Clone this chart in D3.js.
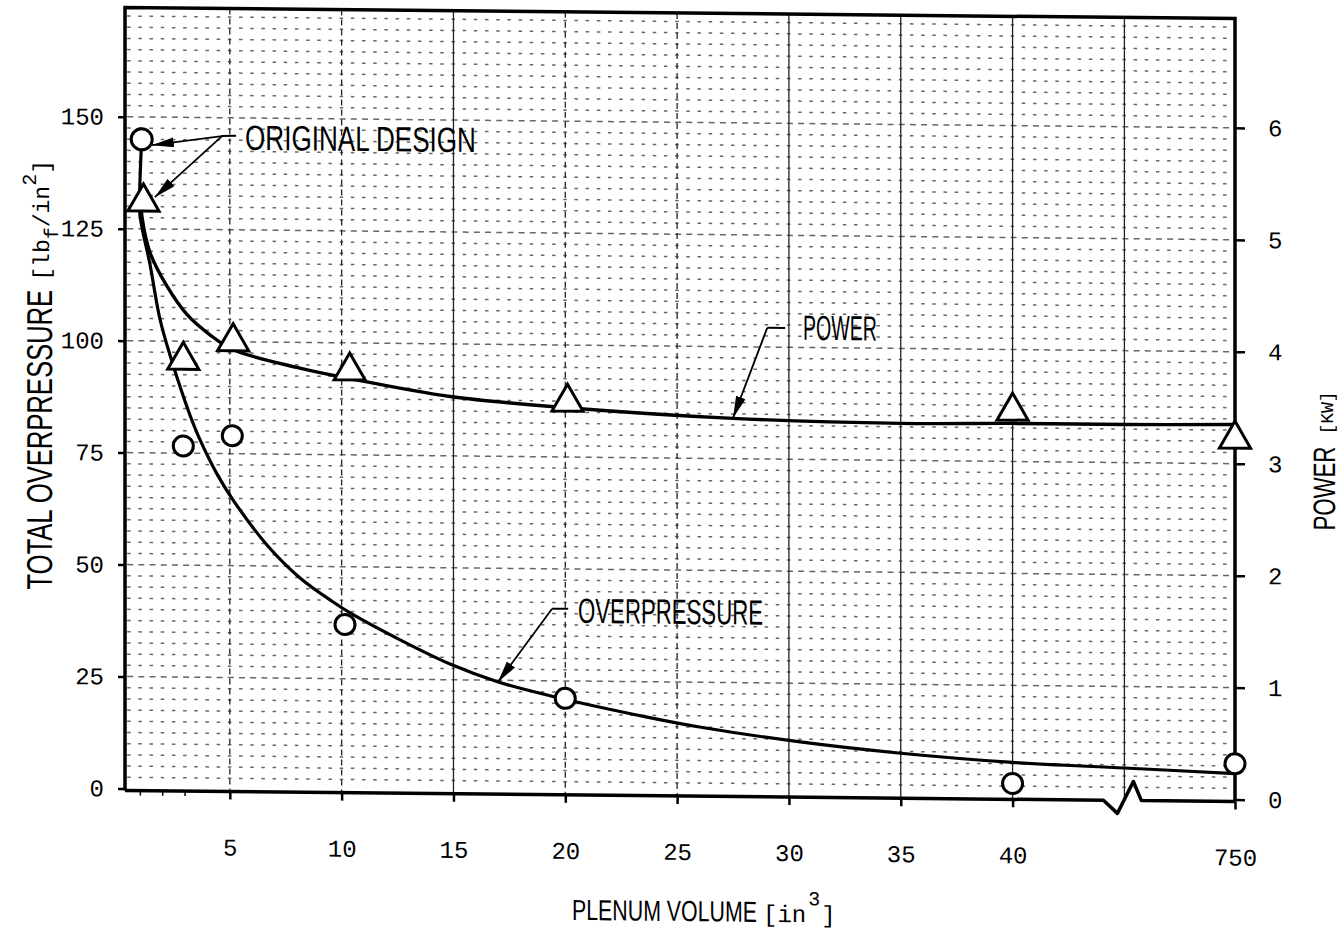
<!DOCTYPE html>
<html>
<head>
<meta charset="utf-8">
<script src="https://cdn.jsdelivr.net/npm/d3@7"></script>
<style>
  body { margin: 0; background: #fff; }
  svg { display: block; background: #fff; }
</style>
</head>
<body>
<div id="chart"></div>
<script>
var MONO = "'Liberation Mono', 'DejaVu Sans Mono', monospace";
var LETTER = "'Liberation Sans Narrow', 'Liberation Sans', 'DejaVu Sans', sans-serif";

// measured points: overpressure (circles) and power (triangles)
var pressureVolume = [1.06, 2.92, 5.11, 10.15, 20, 40, 750];
var pressureValue = [145, 76.6, 79, 37.1, 21.1, 3.1, 8];
var powerVolume = [1.14, 2.92, 5.15, 10.36, 20.1, 40, 750];
var powerValue = [5.24, 3.83, 4.0, 3.75, 3.49, 3.45, 3.22];

// hand-drawn fitted curves
var pressureCurveVolume = [1.06, 0.98, 0.98, 1.43, 1.88, 2.41, 2.68, 3.22, 3.67, 4.43, 5.14, 6.66, 8.14, 9.62, 10.38, 12.61, 14.85, 17.0, 19.45, 23.66, 26.0, 30.5, 35.0, 40, 45, 750];
var pressureCurveValue = [145, 134.9, 128.2, 117.1, 104.8, 95.5, 91.3, 83.5, 78.0, 70.4, 64.7, 54.7, 47.4, 42.1, 39.7, 33.8, 28.5, 24.6, 21.5, 17.1, 15.0, 11.9, 9.6, 7.8, 6.8, 5.8];
var powerCurveVolume = [1.03, 1.07, 1.43, 2.19, 3.08, 4.11, 5.13, 8.13, 10.4, 14.85, 20.1, 27.5, 35.0, 40, 45, 750];
var powerCurveValue = [5.24, 5.11, 4.79, 4.49, 4.24, 4.06, 3.93, 3.77, 3.68, 3.53, 3.44, 3.36, 3.33, 3.34, 3.34, 3.35];

var xTicks = [5, 10, 15, 20, 25, 30, 35, 40, 750];
var xMinorTicks = [1, 2, 3];
var pressureTicks = [0, 25, 50, 75, 100, 125, 150];
var powerTicks = [0, 1, 2, 3, 4, 5, 6];

var notes = [
    {text: "ORIGINAL DESIGN", at: [5.68, 142.9], len: 231, end: [5.28, 146], elbow: [4.65, 145.9], tips: [[1.52, 143.7], [1.65, 132.1]]},
    {text: "POWER", at: [30.63, 101.7], len: 74, end: [29.83, 104.3], elbow: [29.03, 104.3], tips: [[27.5, 84.1]]},
    {text: "OVERPRESSURE", at: [20.57, 38.0], len: 185, end: [20.13, 41.1], elbow: [19.41, 41.1], tips: [[16.99, 24.6]]}
];

var width = 1344, height = 932;
var skew = 0.01; // the scanned sheet sits slightly askew

var svg = d3.select("#chart").append("svg")
    .attr("width", width)
    .attr("height", height);

var g = svg.append("g")
    .attr("transform", "matrix(1," + skew + ",0,1,0," + (-skew * 680) + ")");

// x axis is broken between 45 and 750
var x = d3.scaleLinear().domain([0, 45, 750]).range([118, 1124.4, 1235]);
var yL = d3.scaleLinear().domain([0, 150]).range([794, 122.3]);
var yR = d3.scaleLinear().domain([0, 6]).range([794, 122.3]);

var plotLeft = 125, plotRight = x(750), plotTop = 13, plotBottom = 796;

// graph paper
var step = x(0.5) - x(0);
g.append("g").selectAll("line")
    .data(d3.range(2.5, 175, 2.5))
    .enter().append("line")
    .attr("x1", x(0.5) - 2)
    .attr("x2", plotRight - 3)
    .attr("y1", d => yL(d))
    .attr("y2", d => yL(d))
    .attr("stroke", "#666")
    .attr("stroke-width", 1.5)
    .attr("stroke-dasharray", d => d % 25 === 0 ? "6," + (step - 6) : "3.5," + (step - 3.5));

var solidCols = [15, 30, 35, 40, 45];
g.append("g").selectAll("line")
    .data(d3.range(5, 50, 5))
    .enter().append("line")
    .attr("x1", d => x(d))
    .attr("x2", d => x(d))
    .attr("y1", plotTop)
    .attr("y2", plotBottom)
    .attr("stroke", "#222")
    .attr("stroke-width", 1.3)
    .attr("stroke-dasharray", d => solidCols.indexOf(d) >= 0 ? null : "6,4");

// frame with axis break
g.append("path")
    .attr("d", "M" + plotLeft + "," + plotBottom + "V" + plotTop + "H" + plotRight + "V" + plotBottom)
    .attr("fill", "none")
    .attr("stroke", "#000")
    .attr("stroke-width", 3.5);

var bx = x(45);
g.append("path")
    .attr("d", d3.line()([
        [plotLeft, plotBottom], [bx - 21, plotBottom], [bx - 7, plotBottom + 13],
        [bx + 9, plotBottom - 19], [bx + 17, plotBottom], [plotRight, plotBottom]
    ]))
    .attr("fill", "none")
    .attr("stroke", "#000")
    .attr("stroke-width", 3.5)
    .attr("stroke-linejoin", "round");

// axes
function styleAxis(sel) {
    sel.select(".domain").remove();
    sel.attr("font-family", MONO).attr("font-size", 24);
    sel.selectAll(".tick line").attr("stroke", "#000").attr("stroke-width", 2.5);
    sel.selectAll(".tick text").attr("fill", "#000");
}

g.append("g")
    .attr("transform", "translate(0," + plotBottom + ")")
    .call(d3.axisBottom(x).tickValues(xTicks).tickSize(8).tickPadding(39).tickFormat(d3.format("d")))
    .call(styleAxis);

g.append("g").selectAll("line")
    .data(xMinorTicks)
    .enter().append("line")
    .attr("x1", d => x(d))
    .attr("x2", d => x(d))
    .attr("y1", plotBottom)
    .attr("y2", plotBottom + 5)
    .attr("stroke", "#000")
    .attr("stroke-width", 1.5);

g.append("g")
    .attr("transform", "translate(" + plotLeft + ",0)")
    .call(d3.axisLeft(yL).tickValues(pressureTicks).tickSize(7).tickPadding(14).tickFormat(d3.format("d")))
    .call(styleAxis);

g.append("g")
    .attr("transform", "translate(" + plotRight + ",0)")
    .call(d3.axisRight(yR).tickValues(powerTicks).tickSize(10).tickPadding(23).tickFormat(d3.format("d")))
    .call(styleAxis);

// curves
var pressureLine = d3.line()
    .x(d => x(d[0]))
    .y(d => yL(d[1]))
    .curve(d3.curveCatmullRom.alpha(0.5));

var powerLine = d3.line()
    .x(d => x(d[0]))
    .y(d => yR(d[1]))
    .curve(d3.curveCatmullRom.alpha(0.5));

g.append("path")
    .attr("d", pressureLine(d3.zip(pressureCurveVolume, pressureCurveValue)))
    .attr("fill", "none")
    .attr("stroke", "#000")
    .attr("stroke-width", 3.2);

g.append("path")
    .attr("d", powerLine(d3.zip(powerCurveVolume, powerCurveValue)))
    .attr("fill", "none")
    .attr("stroke", "#000")
    .attr("stroke-width", 3.4);

// markers
g.append("g").selectAll("circle")
    .data(d3.zip(pressureVolume, pressureValue))
    .enter().append("circle")
    .attr("cx", d => x(d[0]))
    .attr("cy", d => yL(d[1]))
    .attr("r", (d, i) => i === 0 ? 10.5 : 10)
    .attr("fill", "#fff")
    .attr("stroke", "#000")
    .attr("stroke-width", 3);

g.append("g").selectAll("path")
    .data(d3.zip(powerVolume, powerValue))
    .enter().append("path")
    .attr("d", d3.symbol(d3.symbolTriangle, 420))
    .attr("transform", d => "translate(" + x(d[0]) + "," + yR(d[1]) + ")")
    .attr("fill", "#fff")
    .attr("stroke", "#000")
    .attr("stroke-width", 3)
    .attr("stroke-linejoin", "miter");

// condensed lettering: squeeze a normal face to the measured length
function lettering(parent, str, size, len, pos) {
    var t = parent.append("text")
        .attr("font-family", LETTER)
        .attr("font-size", size)
        .text(str);
    var sx = len / t.node().getComputedTextLength();
    t.attr("transform", pos + " scale(" + sx + ",1)");
    return t;
}

// annotations
svg.append("defs").append("marker")
    .attr("id", "head")
    .attr("viewBox", "0 0 22 10")
    .attr("refX", 22)
    .attr("refY", 5)
    .attr("markerWidth", 22)
    .attr("markerHeight", 10)
    .attr("markerUnits", "userSpaceOnUse")
    .attr("orient", "auto")
    .append("path")
    .attr("d", "M0,0L22,5L0,10Z")
    .attr("fill", "#000");

var pt = p => [x(p[0]), yL(p[1])];

notes.forEach(function(n) {
    g.append("path")
        .attr("d", d3.line()([pt(n.end), pt(n.elbow)]))
        .attr("stroke", "#000")
        .attr("stroke-width", 2);
    n.tips.forEach(function(t) {
        g.append("path")
            .attr("d", d3.line()([pt(n.elbow), pt(t)]))
            .attr("stroke", "#000")
            .attr("stroke-width", 1.8)
            .attr("marker-end", "url(#head)");
    });
    lettering(g, n.text, 35, n.len, "translate(" + x(n.at[0]) + "," + yL(n.at[1]) + ")");
});

// axis titles
lettering(g, "TOTAL OVERPRESSURE", 36, 300, "translate(52,596) rotate(-90)");

var unitL = g.append("text")
    .attr("transform", "translate(49,287) rotate(-90)")
    .attr("font-family", MONO)
    .attr("font-size", 23);
unitL.append("tspan").text("[lb");
unitL.append("tspan").attr("font-size", 20).attr("dy", 9).text("f");
unitL.append("tspan").attr("dy", -9).text("/in");
unitL.append("tspan").attr("font-size", 20).attr("dy", -13).text("2");
unitL.append("tspan").attr("dy", 13).text("]");

lettering(g, "POWER", 31, 84, "translate(1335,524) rotate(-90)");

g.append("text")
    .attr("transform", "translate(1333,428) rotate(-90)")
    .attr("font-family", MONO)
    .attr("font-size", 18)
    .text("[KW]");

lettering(g, "PLENUM VOLUME", 29, 185, "translate(572,921)");

var unitX = g.append("text")
    .attr("x", 763)
    .attr("y", 921)
    .attr("font-family", MONO)
    .attr("font-size", 24);
unitX.append("tspan").text("[in");
unitX.append("tspan").attr("font-size", 20).attr("dx", 2).attr("dy", -17).text("3");
unitX.append("tspan").attr("dx", 1).attr("dy", 17).text("]");
</script>
</body>
</html>
